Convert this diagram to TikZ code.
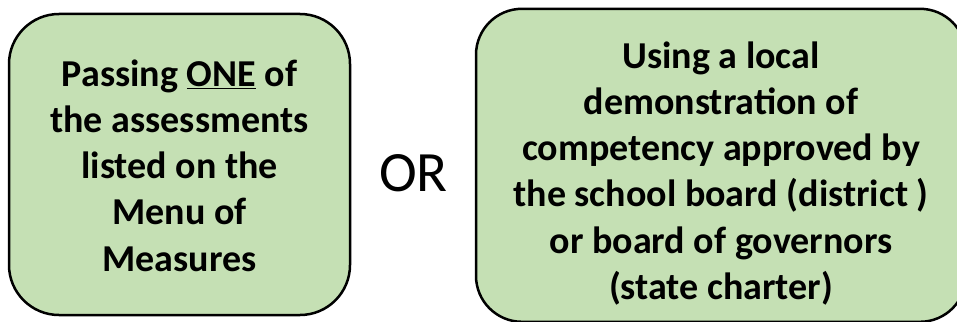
\documentclass[tikz,border=0pt]{standalone}
\usepackage{fontspec}
\setmainfont{Carlito}
\usepackage{tikz}

\definecolor{boxgreen}{HTML}{C5E0B4}

\begin{document}
\begin{tikzpicture}[x=1pt,y=-1pt,
  choice/.style={draw=black,fill=boxgreen,line width=2.5pt,inner sep=0pt},
  choicetext/.style={align=center,inner sep=0pt,
    font=\fontsize{38}{46.2}\selectfont\bfseries}]
\useasboundingbox (0,0) rectangle (957,321);
\clip (0,0) rectangle (957,321);
% the two boxes
\node[choice,rounded corners=50pt,minimum width=341pt,minimum height=301pt] (menu) at (179.5,164.5) {};
\node[choice,rounded corners=46pt,minimum width=490pt,minimum height=313pt] (local) at (721,165.3) {};
% their texts
\node[choicetext] (menutext) at ([yshift=-1pt]menu.center)
  {Passing \underline{ONE} of\\the assessments\\listed on the\\Menu of\\Measures};
\node[choicetext] (localtext) at ([yshift=-8pt]local.center)
  {Using a local\\demonstration of\\competency approved by\\the school board (district )\\or board of governors\\(state charter)};
\node[font=\fontsize{57}{60}\selectfont] (or) at (413.5,173) {OR};
\end{tikzpicture}
\end{document}
